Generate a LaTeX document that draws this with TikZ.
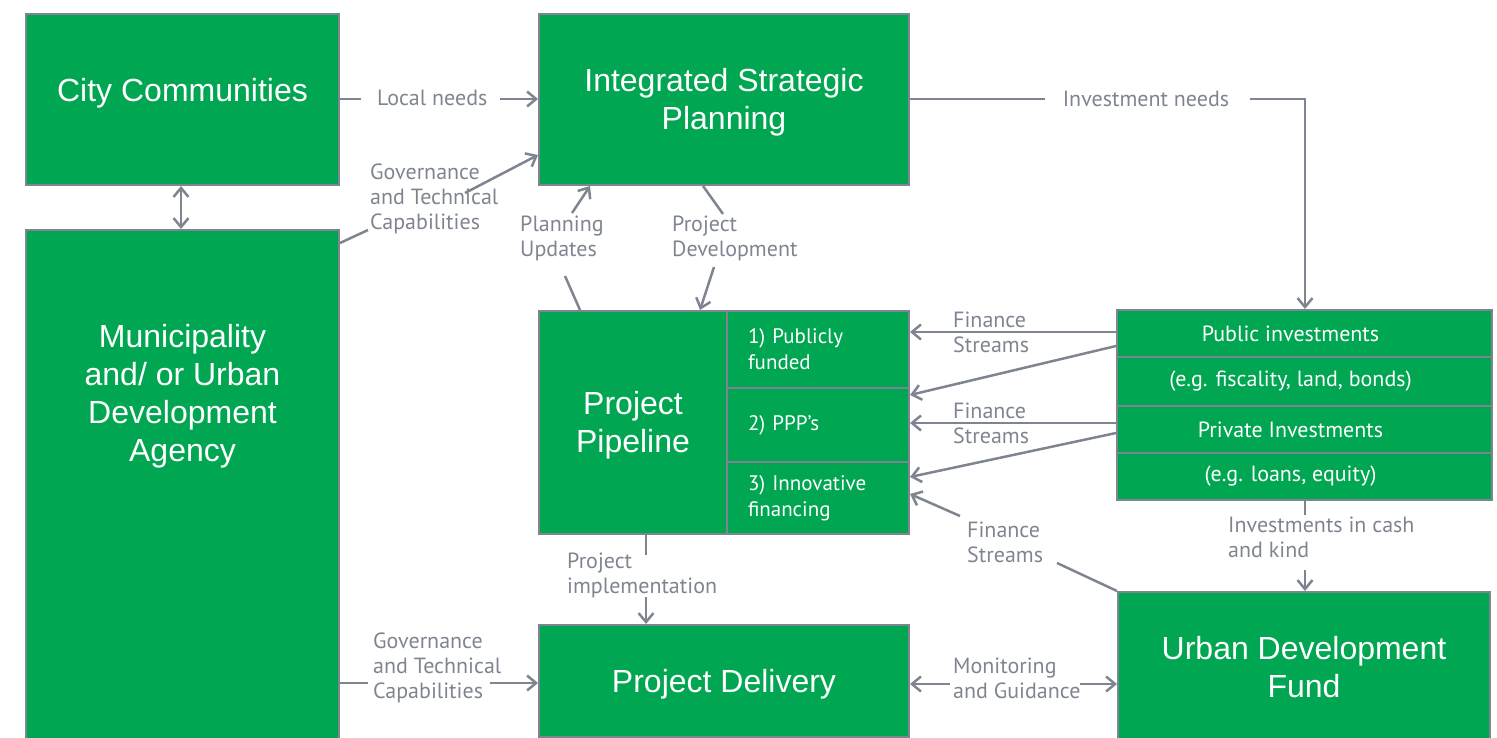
\documentclass[tikz,border=0pt]{standalone}
\usepackage{fontspec}
\setmainfont{Liberation Sans}
\newfontfamily\labelfont{PT Sans}
\usetikzlibrary{arrows.meta}

\definecolor{udgreen}{HTML}{00A651}
\definecolor{udgrey}{HTML}{7F8590}

\begin{document}
\begin{tikzpicture}[x=1pt, y=-1pt,
  box/.style={draw=udgrey, line width=2pt, fill=udgreen, text=white, align=center, inner sep=0pt, font=\fontsize{32}{38}\selectfont},
  boxtext/.style={text=white, align=center, inner sep=0pt, font=\fontsize{32}{38}\selectfont},
  cell/.style={draw=udgrey, line width=2pt, fill=udgreen, text=white, inner sep=0pt, font=\labelfont\fontsize{22}{26}\selectfont},
  subcell/.style={cell, text width=140pt, inner xsep=21pt, align=left, minimum width=182pt, font=\labelfont\fontsize{21}{26}\selectfont},
  invcell/.style={cell, minimum width=375pt, minimum height=47pt, execute at end node={\hspace*{28pt}}},
  lbl/.style={text=udgrey, anchor=west, align=left, inner sep=0pt, font=\labelfont\fontsize{22}{25}\selectfont},
  link/.style={draw=udgrey, line width=2.5pt},
  arr/.style={link, -{Straight Barb[length=9pt, width=15pt]}},
  dblarr/.style={link, {Straight Barb[length=9pt, width=15pt]}-{Straight Barb[length=9pt, width=15pt]}},
]

\useasboundingbox (0,0) rectangle (1497,738);
\clip (0,0) rectangle (1497,738);

% boxes
\node[box, minimum width=313pt, minimum height=171pt, text depth=19pt] (city) at (182.5,99.5) {City Communities};
\node[box, minimum width=313pt, minimum height=540pt, anchor=north] (muni) at (182.5,229) {};
\node[boxtext] (munitext) at (182.5,396) {Municipality\\ and/ or Urban\\ Development\\ Agency};
\node[box, minimum width=370pt, minimum height=171pt, text height=67pt] (isp) at (724,99.5) {Integrated Strategic\\ Planning};
\node[box, minimum width=188pt, minimum height=223pt, text height=67pt] (pipe) at (633,422.5) {Project\\ Pipeline};
\node[box, minimum width=370pt, minimum height=112pt, text height=29pt] (deliv) at (724,681) {Project Delivery};
\node[box, minimum width=372pt, minimum height=150pt] (fund) at (1304,667) {Urban Development\\ Fund};

% pipeline cells
\node[subcell, minimum height=77pt] (publ) at (818,349.5) {1) Publicly\\ funded};
\node[subcell, minimum height=74pt] (ppp) at (818,425) {2) PPP’s};
\node[subcell, minimum height=72pt] (innov) at (818,498) {3) Innovative\\ financing};

% investment cells
\node[invcell] (pubinv) at (1304.5,333.5) {Public investments};
\node[invcell, minimum height=49pt] (pubeg) at (1304.5,381.5) {(e.g. fiscality, land, bonds)};
\node[invcell] (privinv) at (1304.5,429.5) {Private Investments};
\node[invcell] (priveg) at (1304.5,476.5) {(e.g. loans, equity)};

% free ends
\coordinate (ln1) at (361,99);
\coordinate (ln2) at (500,99);
\coordinate (in1) at (1045,99);
\coordinate (in2) at (1250,99);
\coordinate (gt1) at (368,230);
\coordinate (gt2) at (465,193);
\coordinate (pu1) at (565,276);
\coordinate (pu2) at (572,213);
\coordinate (pd1) at (723,214);
\coordinate (pd2) at (714,267);
\coordinate (fs1) at (1057,563);
\coordinate (fs2) at (960,516);
\coordinate (ic1) at (1305,515);
\coordinate (ic2) at (1305,570);
\coordinate (pi1) at (646,555);
\coordinate (pi2) at (646,597);
\coordinate (gb1) at (368,683);
\coordinate (gb2) at (490,683);
\coordinate (mg1) at (950,684);
\coordinate (mg2) at (1080,684);

% connectors
\draw[link] (city.east |- ln1) -- (ln1);
\draw[arr] (ln2) -- (isp.west |- ln2);
\draw[link] (isp.east |- in1) -- (in1);
\draw[arr] (in2) -| (pubinv.north -| 1305,0);
\draw[link] (muni.east |- 0,243) -- (gt1);
\draw[arr] (gt2) -- (isp.west |- 0,155);
\draw[dblarr] (city.south -| 181,0) -- (muni.north -| 181,0);
\draw[link] (pipe.north -| 580,0) -- (pu1);
\draw[arr] (pu2) -- (isp.south -| 590,0);
\draw[link] (isp.south -| 703,0) -- (pd1);
\draw[arr] (pd2) -- (pipe.north -| 700,0);
\draw[arr] (pubinv.west |- 0,332) -- (publ.east |- 0,332);
\draw[arr] (pubinv.west |- 0,346) -- (ppp.east |- 0,395);
\draw[arr] (privinv.west |- 0,423) -- (ppp.east |- 0,423);
\draw[arr] (privinv.west |- 0,433) -- (innov.east |- 0,477);
\draw[link] (fund.north west) -- (fs1);
\draw[arr] (fs2) -- (innov.east |- 0,494);
\draw[link] (priveg.south -| ic1) -- (ic1);
\draw[arr] (ic2) -- (fund.north -| ic2);
\draw[link] (pipe.south -| pi1) -- (pi1);
\draw[arr] (pi2) -- (deliv.north -| pi2);
\draw[link] (muni.east |- gb1) -- (gb1);
\draw[arr] (gb2) -- (deliv.west |- gb2);
\draw[arr] (mg1) -- (deliv.east |- mg1);
\draw[arr] (mg2) -- (fund.west |- mg2);

% labels
\node[lbl] (lnlbl) at (377,98) {Local needs};
\node[lbl, anchor=center] (inlbl) at (1146,99) {Investment needs};
\node[lbl] (gtlbl) at (370,199) {Governance\\ and Technical\\ Capabilities};
\node[lbl] (pulbl) at (520,238) {Planning\\ Updates};
\node[lbl] (pdlbl) at (672,238) {Project\\ Development};
\node[lbl] (fs1lbl) at (953,332) {Finance\\ Streams};
\node[lbl] (fs2lbl) at (953,423) {Finance\\ Streams};
\node[lbl] (fs3lbl) at (967,542) {Finance\\ Streams};
\node[lbl] (iclbl) at (1228,537) {Investments in cash\\ and kind};
\node[lbl] (pilbl) at (567,575) {Project\\ implementation};
\node[lbl] (gblbl) at (373,668) {Governance\\ and Technical\\ Capabilities};
\node[lbl] (mglbl) at (953,678) {Monitoring\\ and Guidance};

\end{tikzpicture}
\end{document}
